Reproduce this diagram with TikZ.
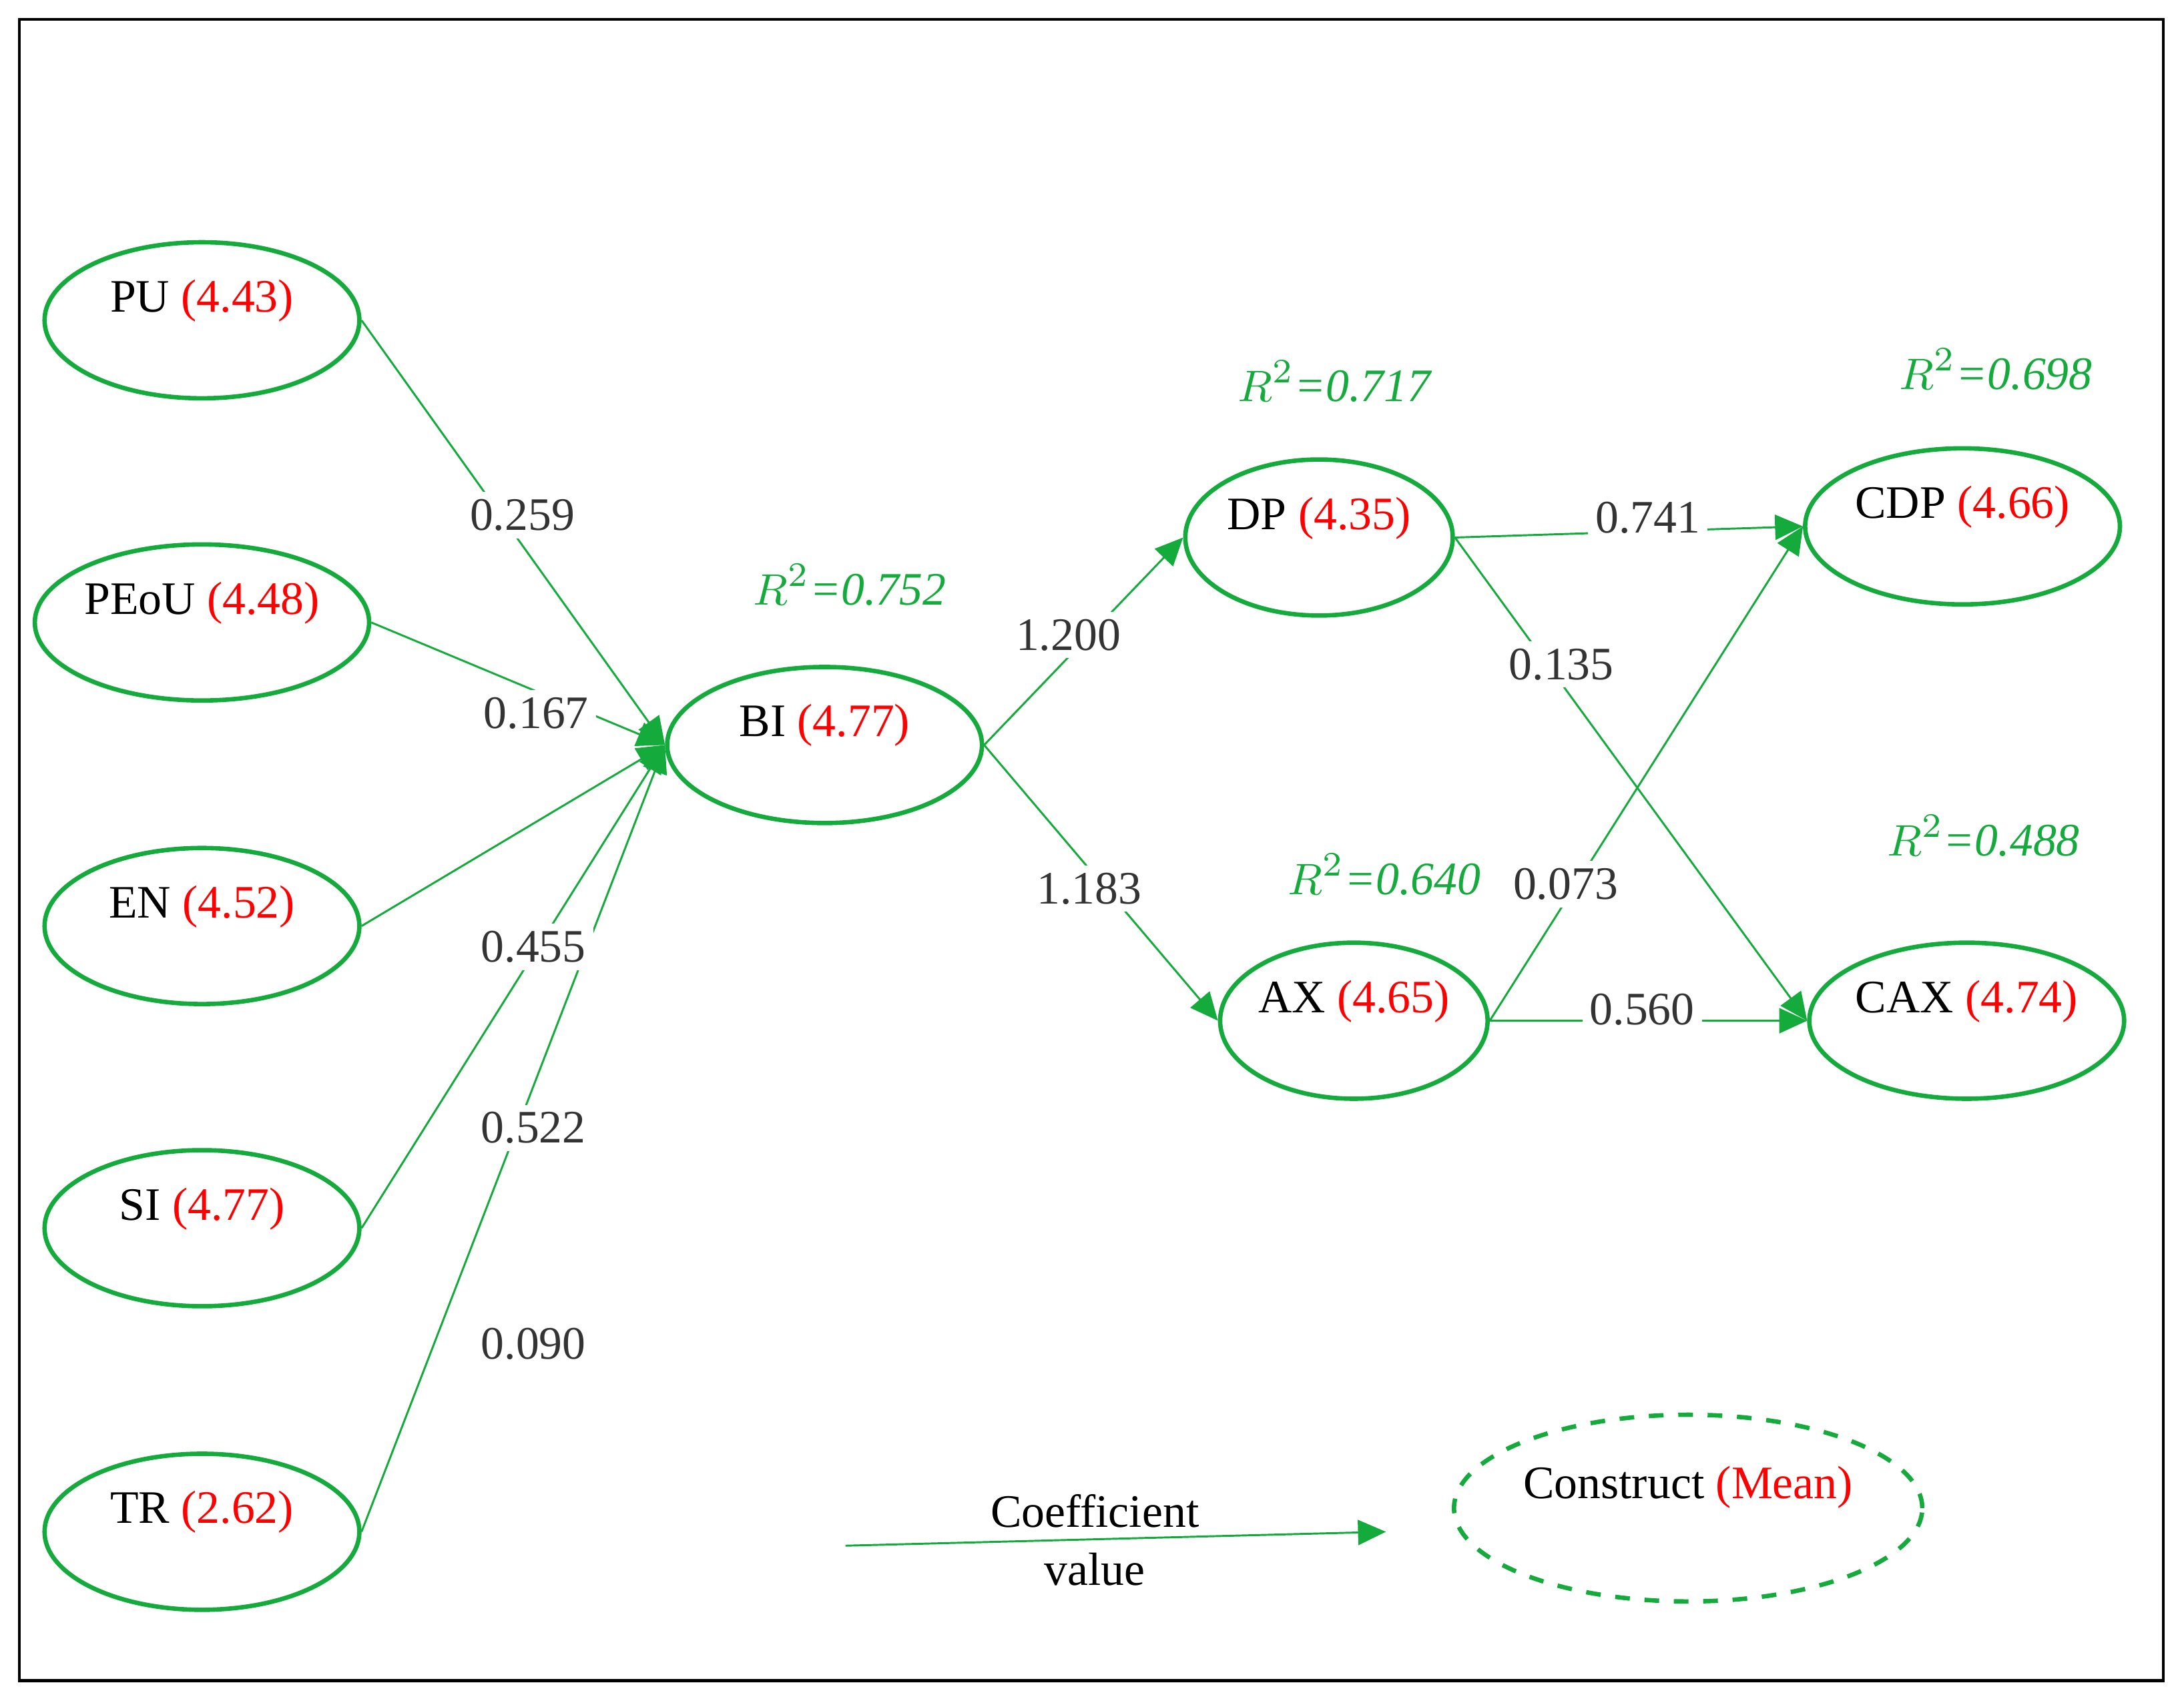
\documentclass[tikz,border=0pt]{standalone}
\usepackage{fontspec}
\setmainfont{Liberation Serif}
\usetikzlibrary{shapes.geometric,arrows.meta}
\definecolor{gr}{RGB}{20,170,60}
\begin{document}
\begin{tikzpicture}[x=0.01cm,y=-0.01cm,font=\fontsize{9.5}{11}\selectfont,
 ell/.style={ellipse,draw=gr,line width=0.9pt,inner sep=0pt,minimum height=1.12cm},
 ed/.style={gr,line width=0.4pt,-{Triangle[length=2mm,width=1.8mm]}},
 lb/.style={fill=white,inner sep=1.5pt,text=black!80},
 rr/.style={text=gr,font=\fontsize{9.5}{11}\selectfont\itshape}]
\useasboundingbox (0,0) rectangle (1568,1224);
\draw[line width=0.6pt] (14,14) rectangle (1553,1207);
\def\mm#1{\textcolor{red}{(#1)}}
\foreach \n/\x/\y/\w/\t in {PU/145/230/226/PU \mm{4.43},PEoU/145/447/240/PEoU \mm{4.48},EN/145/665/226/EN \mm{4.52},SI/145/882/226/SI \mm{4.77},TR/145/1100/226/TR \mm{2.62},BI/592/535/226/BI \mm{4.77},DP/947/386/192/DP \mm{4.35},AX/972/733/192/AX \mm{4.65},CDP/1409/378/226/CDP \mm{4.66},CAX/1412/733/226/CAX \mm{4.74}}{
 \node[ell,minimum width=\w*0.01cm] (\n) at (\x,\y) {};
 \node at ([yshift=1.4mm]\n.center) {\t};
}
\node[ell,dashed,minimum width=3.36cm,minimum height=1.34cm] (CO) at (1212,1083) {};
\node at ([yshift=1.5mm]CO.center) {Construct \textcolor{red}{(Mean)}};
% edges
\draw[ed] (PU.east) -- (BI.west);
\draw[ed] (PEoU.east) -- (BI.west);
\draw[ed] (EN.east) -- (BI.west);
\draw[ed] (SI.east) -- (BI.west);
\draw[ed] (TR.east) -- (BI.west);
\draw[ed] (BI.east) -- (DP.west);
\draw[ed] (BI.east) -- (AX.west);
\draw[ed] (DP.east) -- (CDP.west);
\draw[ed] (DP.east) -- (CAX.west);
\draw[ed] (AX.east) -- (CDP.west);
\draw[ed] (AX.east) -- (CAX.west);
\node[lb] (l1) at (375,370) {0.259};
\node[lb] (l2) at (385,512) {0.167};
\node[lb] (l3) at (383,680) {0.455};
\node[lb] (l4) at (383,810) {0.522};
\node[lb] (l5) at (383,965) {0.090};
\node[lb] (l6) at (767,456) {1.200};
\node[lb] (l7) at (782,638) {1.183};
\node[lb] (l8) at (1183,372) {0.741};
\node[lb] (l9) at (1121,477) {0.135};
\node[lb] (l10) at (1124,635) {0.073};
\node[lb] (l11) at (1179,725) {0.560};
\node[rr] (r1) at (610,420) {$R^2$=0.752};
\node[rr] (r2) at (958,274) {$R^2$=0.717};
\node[rr] (r3) at (1433,265) {$R^2$=0.698};
\node[rr] (r4) at (994,628) {$R^2$=0.640};
\node[rr] (r5) at (1424,600) {$R^2$=0.488};
% legend
\coordinate (la) at (607,1110);
\coordinate (lz) at (995,1100);
\draw[ed] (la) -- (lz);
\node (c1) at (786,1085) {Coefficient};
\node (c2) at (786,1127) {value};
\end{tikzpicture}
\end{document}
